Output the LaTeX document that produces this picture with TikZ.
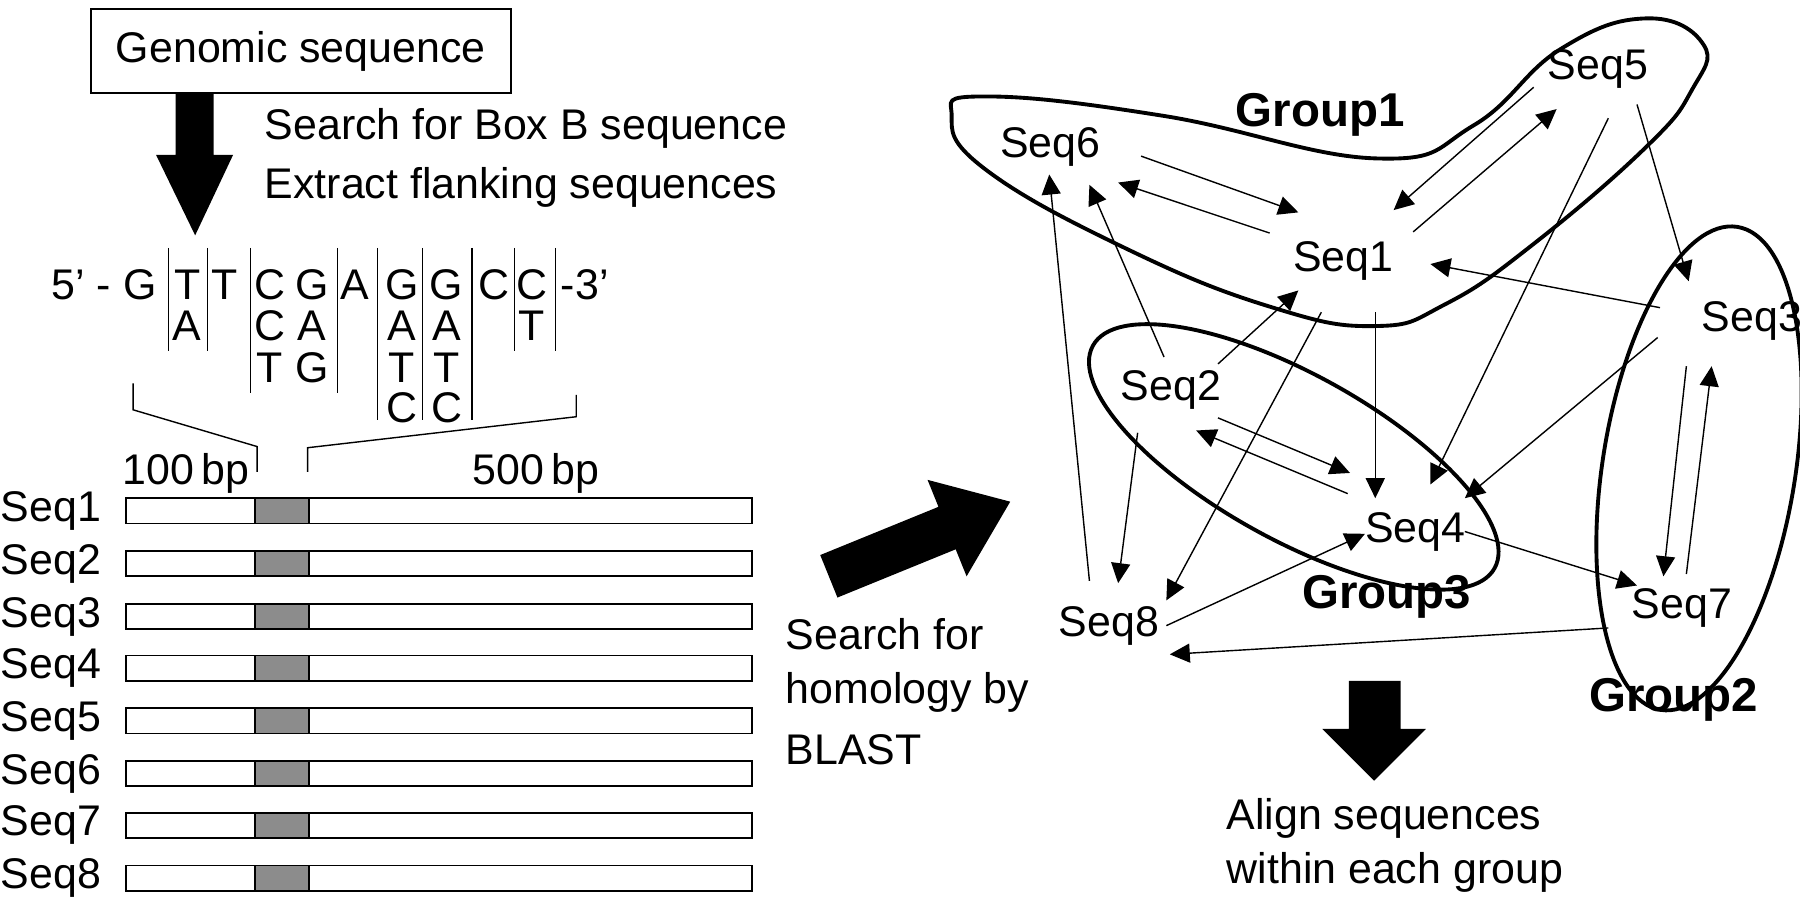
\documentclass[tikz,border=0pt]{standalone}
\usepackage{fontspec}
\setmainfont{Liberation Sans}
\usetikzlibrary{arrows.meta}
\begin{document}
\begin{tikzpicture}[x=0.01148cm,y=-0.01148cm,
  txt/.style={inner sep=0pt,font=\fontsize{12.2}{14}\selectfont},
  lbl/.style={txt,anchor=west},
  grp/.style={inner sep=0pt,font=\fontsize{13.5}{15}\selectfont\bfseries},
  base/.style={txt},
  vl/.style={line width=0.4pt},
  bar/.style={draw,line width=0.5pt},
  e/.style={line width=0.4pt,-{Triangle[length=0.2cm,width=0.19cm]}},
  outl/.style={line width=1.1pt}]
\useasboundingbox (0,0) rectangle (1568,789);
% genomic box
\node[draw,line width=0.5pt,minimum width=366*0.01148cm,minimum height=73*0.01148cm,txt] (gen) at (262,44.5) {Genomic sequence};
\fill (153,81) -- (186,81) -- (186,135) -- (203,135) -- (170,205) -- (136,135) -- (153,135) -- cycle;
\node[lbl] (s1) at (230,112) {Search for Box B sequence};
\node[lbl] (s2) at (230,163) {Extract flanking sequences};
% sequence
\node[base,anchor=east] (p5) at (137,248) {5’ - G};
\foreach \x/\t in {163/T,196/T,235/C,272/G,309/A,350/G,389/G,430/C,463/C}{\node[base] at (\x,248) {\t};}
\node[base,anchor=west] (p3) at (488,248) {-3’};
\foreach \x/\t in {163/A,235/C,272/A,350/A,389/A,463/T}{\node[base] at (\x,284) {\t};}
\foreach \x/\t in {235/T,272/G,350/T,389/T}{\node[base] at (\x,320) {\t};}
\foreach \x/\t in {350/C,389/C}{\node[base] at (\x,355) {\t};}
\foreach \x/\b in {147/306,181/306,218/342,294/342,329/366,368/366,411/366,448/306,484/306}{\draw[vl] (\x,216) -- (\x,\b);}
\draw[vl] (116,334) -- (116,357) -- (224,389) -- (224,411);
\draw[vl] (502,344) -- (502,363) -- (268,390) -- (268,411);
\node[txt] (bp1) at (162,412) {100\,bp};
\node[txt] (bp5) at (467,412) {500\,bp};
% bars
\foreach \i/\y in {1/445,2/491,3/537,4/582,5/628,6/674,7/719,8/765}{
  \node[lbl] (L\i) at (0,\y) {Seq\i};
  \draw[bar] (110,\y-11) rectangle (655,\y+11);
  \draw[bar,fill=black!45] (222,\y-11) rectangle (269,\y+11);
}
% big arrow
\fill (729.5,520.5) -- (714.5,483.5) -- (817.5,441.5) -- (808,418) -- (880,437) -- (842,502) -- (832.5,478.5) -- cycle;
\node[lbl] (b1) at (684,552) {Search for};
\node[lbl] (b2) at (684,603) {homology by};
\node[lbl] (b3) at (684,653) {BLAST};
% groups
\draw[outl] plot[smooth cycle,tension=0.75] coordinates {(829,101) (859,84) (1014,101) (1199,138) (1284,109) (1359,43) (1434,16) (1484,39) (1474,78) (1434,128) (1334,214) (1259,265) (1199,284) (1109,268) (984,218) (859,148)};
\draw[outl,rotate around={-29:(1127,398)}] (1127,398) ellipse [x radius=200,y radius=72];
\draw[outl,rotate around={-9:(1480,408)}] (1480,408) ellipse [x radius=84,y radius=213];
\node[grp] (g1) at (1150,100) {Group1};
\node[grp] (g3) at (1208,520) {Group3};
\node[grp] (g2) at (1458,610) {Group2};
% seq nodes
\node[txt] (q5) at (1392,60) {Seq5};
\node[txt] (q6) at (915,128) {Seq6};
\node[txt] (q1) at (1170,227) {Seq1};
\node[txt] (q3) at (1526,280) {Seq3};
\node[txt] (q2) at (1020,340) {Seq2};
\node[txt] (q4) at (1233,463) {Seq4};
\node[txt] (q8) at (966,545) {Seq8};
\node[txt] (q7) at (1465,530) {Seq7};
% edges
\draw[e] (994,136) -- (1131,185);
\draw[e] (1106,203) -- (974,159);
\draw[e] (1336,76) -- (1214,183);
\draw[e] (1231,202) -- (1356,95);
\draw[e] (1401,103) -- (1246,422);
\draw[e] (1426,91) -- (1471,245);
\draw[e] (1446,268) -- (1246,230);
\draw[e] (1444,294) -- (1276,434);
\draw[e] (1469,319) -- (1449,502);
\draw[e] (1469,500) -- (1491,319);
\draw[e] (1198,272) -- (1198,434);
\draw[e] (1151,272) -- (1016,523);
\draw[e] (1061,317) -- (1131,253);
\draw[e] (1014,311) -- (949,161);
\draw[e] (949,506) -- (914,152);
\draw[e] (1061,364) -- (1176,412);
\draw[e] (1174,430) -- (1042,375);
\draw[e] (991,377) -- (974,508);
\draw[e] (1016,545) -- (1189,465);
\draw[e] (1276,463) -- (1426,510);
\draw[e] (1401,547) -- (1019,570);
% down arrow
\fill (1175,593) -- (1220,593) -- (1220,635) -- (1242,635) -- (1197,680) -- (1152,635) -- (1175,635) -- cycle;
\node[lbl] (a1) at (1068,713) {Align sequences};
\node[lbl] (a2) at (1068,760) {within each group};
\end{tikzpicture}
\end{document}
